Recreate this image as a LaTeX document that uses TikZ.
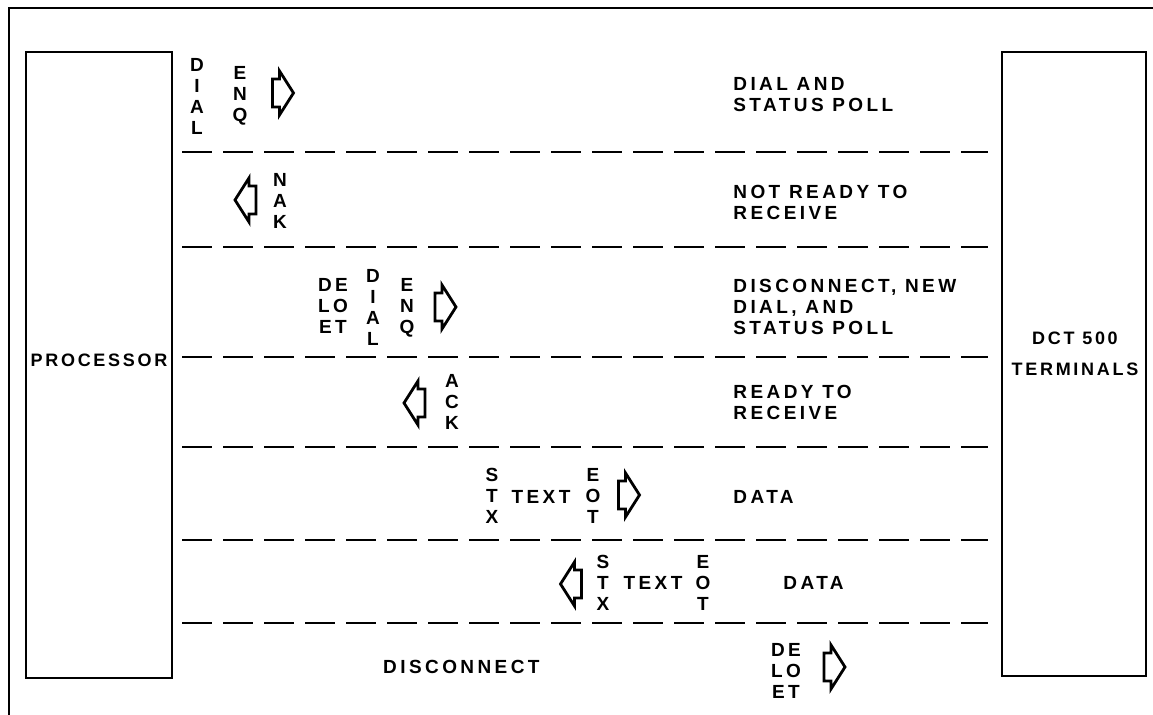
\documentclass[tikz,border=0pt]{standalone}
\usepackage{fontspec}
\setmainfont{Liberation Sans}[LetterSpace=15]
\newfontfamily\rowfont{Liberation Sans}[LetterSpace=18]
\usepackage{tikz}

\tikzset{
  lbl/.style={font=\rowfont\fontsize{9.5}{10.5}\selectfont\bfseries, inner sep=0pt, align=center},
  boxlbl/.style={font=\fontsize{9}{10.5}\selectfont\bfseries, inner sep=0pt, align=center},
  rowtext/.style={lbl, anchor=west, align=left},
  rowline/.style={line width=1.3pt, dash pattern=on 15pt off 5.5pt},
  boxline/.style={line width=1.4pt},
  arrowline/.style={line width=1.4pt, line join=miter},
  rarrow/.pic={\draw[arrowline] (-10,-14) -- (-3,-14) -- (-3,-22) -- (11,0) -- (-3,22) -- (-3,14) -- (-10,14) -- cycle;},
  larrow/.pic={\draw[arrowline] (10,-14) -- (3,-14) -- (3,-22) -- (-11,0) -- (3,22) -- (3,14) -- (10,14) -- cycle;}
}

\begin{document}
\begin{tikzpicture}[x=0.5pt, y=-0.5pt]
            \useasboundingbox (0,0) rectangle (1153,715);

            % outer frame
            \draw[line width=1.1pt] (1160,8) -- (9,8) -- (9,720);

            % processor and terminals
            \draw[boxline] (26,52) rectangle (172,678);
            \node[boxlbl] (proc) at (99,360) {PROCESSOR};
            \draw[boxline] (1002,52) rectangle (1146,676);
            \node[boxlbl] (dct) at (1075,354) {DCT 500\\[5pt]TERMINALS};

            % row separators
            \foreach \y in {152,247,357,447,540,623}
                \draw[rowline] (182,\y) -- (988,\y);

            % row 1
            \node[lbl] (dialA) at (197,96) {D\\I\\A\\L};
            \node[lbl] (enqA) at (240,96) {E\\N\\Q};
            \pic (arrA) at (282.5,93) {rarrow};
            \node[rowtext] (txtA) at (733,95) {DIAL AND\\STATUS POLL};

            % row 2
            \pic (arrB) at (246,200) {larrow};
            \node[lbl] (nakB) at (280,201) {N\\A\\K};
            \node[rowtext] (txtB) at (733,202) {NOT READY TO\\RECEIVE};

            % row 3
            \node[lbl] (deloetC) at (333,306) {DE\\LO\\ET};
            \node[lbl] (dialC) at (373,307) {D\\I\\A\\L};
            \node[lbl] (enqC) at (407,308) {E\\N\\Q};
            \pic (arrC) at (445,307) {rarrow};
            \node[rowtext] (txtC) at (733,307) {DISCONNECT, NEW\\DIAL, AND\\STATUS POLL};

            % row 4
            \pic (arrD) at (415,403) {larrow};
            \node[lbl] (ackD) at (452,402) {A\\C\\K};
            \node[rowtext] (txtD) at (733,402) {READY TO\\RECEIVE};

            % row 5
            \node[lbl] (stxE) at (492,496) {S\\T\\X};
            \node[lbl] (textE) at (541,497) {TEXT};
            \node[lbl] (eotE) at (593,496) {E\\O\\T};
            \pic (arrE) at (628.5,495) {rarrow};
            \node[rowtext] (txtE) at (733,497) {DATA};

            % row 6
            \pic (arrF) at (571.5,584) {larrow};
            \node[lbl] (stxF) at (603,583) {S\\T\\X};
            \node[lbl] (textF) at (653,583) {TEXT};
            \node[lbl] (eotF) at (703,583) {E\\O\\T};
            \node[rowtext] (txtF) at (783,583) {DATA};

            % row 7
            \node[lbl, anchor=east] (txtG) at (540,667) {DISCONNECT};
            \node[lbl] (deloetG) at (786,671) {DE\\LO\\ET};
            \pic (arrG) at (834,667) {rarrow};
        \end{tikzpicture}
\end{document}
